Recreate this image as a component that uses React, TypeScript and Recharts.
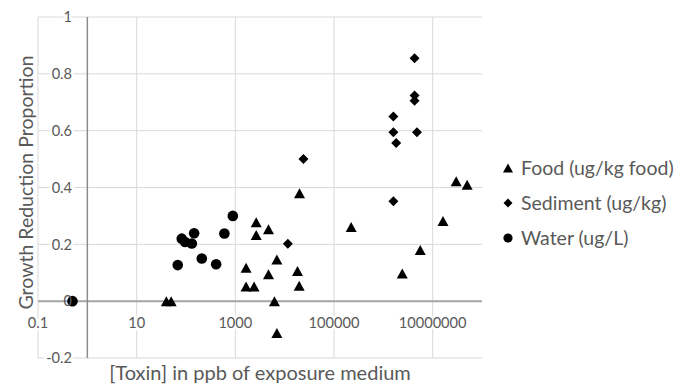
import React from "react";
import {
  ScatterChart,
  Scatter,
  XAxis,
  YAxis,
  CartesianGrid,
  ReferenceLine,
  Legend,
} from "recharts";

// ---- data ----
const foodX = [40, 50, 1650, 1650, 2400, 2650, 2650, 4700, 4700, 6200, 6950, 6950, 18200, 19700, 20000, 223000, 2420000, 5600000, 16200000, 30000000, 50000000];
const foodY = [0, 0, 0.118, 0.052, 0.052, 0.278, 0.233, 0.253, 0.095, 0, 0.147, -0.112, 0.106, 0.054, 0.38, 0.261, 0.097, 0.18, 0.282, 0.422, 0.41];

const sedX = [11600, 24000, 1600000, 1600000, 1600000, 1820000, 4300000, 4300000, 4300000, 4800000];
const sedY = [0.202, 0.5, 0.352, 0.65, 0.594, 0.557, 0.855, 0.724, 0.705, 0.594];

const waterX = [0.5, 68, 82, 96, 131, 146, 209, 408, 600, 889];
const waterY = [0, 0.127, 0.22, 0.208, 0.203, 0.239, 0.15, 0.13, 0.238, 0.3];

const xTicks = [0.1, 10, 1000, 100000, 10000000];
const yTicks = [-0.2, 0, 0.2, 0.4, 0.6, 0.8, 1];

const seriesNames = ["Food (ug/kg food)", "Sediment (ug/kg)", "Water (ug/L)"];

const zip = (xs: number[], ys: number[]) => xs.map((x, i) => ({ x, y: ys[i] }));
const foodData = zip(foodX, foodY);
const sedData = zip(sedX, sedY);
const waterData = zip(waterX, waterY);

const FONT = "Lato, 'Open Sans', sans-serif";
const TXT = "#595959";
const GRID = "#d9d9d9";

const Tri = ({ cx, cy, w = 11, h = 10 }: any) => (
  <path d={`M${cx},${cy - h / 2}L${cx + w / 2},${cy + h / 2}L${cx - w / 2},${cy + h / 2}Z`} fill="#000" />
);
const Dia = ({ cx, cy, r = 5 }: any) => (
  <path d={`M${cx},${cy - r}L${cx + r},${cy}L${cx},${cy + r}L${cx - r},${cy}Z`} fill="#000" />
);
const Dot = ({ cx, cy, r = 5.3 }: any) => <circle cx={cx} cy={cy} r={r} fill="#000" />;

const XTick = (p: any) => (
  <text
    x={p.x}
    y={p.y - 38}
    textAnchor="middle"
    fontFamily={FONT}
    fontSize={14.6}
    fill={TXT}
    stroke="#fff"
    strokeWidth={5}
    paintOrder="stroke"
  >
    {String(p.payload.value)}
  </text>
);

const YTick = (p: any) => (
  <text
    x={p.x + 42}
    y={p.y}
    dy="0.36em"
    textAnchor="end"
    fontFamily={FONT}
    fontSize={14.6}
    fill={TXT}
    stroke="#fff"
    strokeWidth={p.payload.value === 0 ? 0 : 5}
    paintOrder="stroke"
  >
    {String(p.payload.value)}
  </text>
);

const legendMarkers = [
  (c: number) => <Tri cx={c} cy={c} w={10} h={9} />,
  (c: number) => <Dia cx={c} cy={c} r={4.5} />,
  (c: number) => <Dot cx={c} cy={c} r={4.6} />,
];

const renderLegend = () => (
  <div style={{ fontFamily: FONT, fontSize: 19.5, color: TXT }}>
    {seriesNames.map((n, i) => (
      <div key={n} style={{ height: 35, display: "flex", alignItems: "center" }}>
        <svg width={16} height={16} style={{ display: "block" }}>
          {legendMarkers[i](8)}
        </svg>
        <span style={{ marginLeft: 5, whiteSpace: "nowrap" }}>{n}</span>
      </div>
    ))}
  </div>
);

export default function App() {
  return (
    <div style={{ position: "absolute", left: 0, top: 0, background: "#fff" }}>
      <ScatterChart
        width={688}
        height={386}
        margin={{ top: 17, left: 37, right: 206, bottom: 27 }}
      >
        <CartesianGrid stroke={GRID} strokeWidth={1} vertical={false} />
        {xTicks.map((t) => (
          <ReferenceLine key={t} x={t} stroke={GRID} strokeWidth={1} />
        ))}
        <XAxis
          dataKey="x"
          type="number"
          scale="log"
          domain={[0.1, 100000000]}
          allowDataOverflow
          ticks={xTicks}
          interval={0}
          height={1}
          axisLine={false}
          tickLine={false}
          tick={<XTick />}
          label={(props: any) => {
            const vb = props.viewBox;
            return (
              <text
                x={vb.x + vb.width / 2}
                y={vb.y + 22}
                textAnchor="middle"
                fontFamily={FONT}
                fontSize={20}
                fill={TXT}
              >
                [Toxin] in ppb of exposure medium
              </text>
            );
          }}
        />
        <YAxis
          dataKey="y"
          type="number"
          domain={[-0.2, 1]}
          ticks={yTicks}
          interval={0}
          width={1}
          axisLine={false}
          tickLine={false}
          tick={<YTick />}
          label={(props: any) => {
            const vb = props.viewBox;
            const cx = vb.x - 4;
            const cy = vb.y + vb.height / 2 - 5;
            return (
              <text
                x={cx}
                y={cy}
                transform={`rotate(-90 ${cx} ${cy})`}
                textAnchor="middle"
                fontFamily={FONT}
                fontSize={19.5}
                fill={TXT}
              >
                Growth Reduction Proportion
              </text>
            );
          }}
        />
        <ReferenceLine y={0} stroke="#a6a6a6" strokeWidth={2} />
        <ReferenceLine x={1} stroke="#8c8c8c" strokeWidth={1.5} />
        <Legend
          layout="vertical"
          align="center"
          verticalAlign="middle"
          content={renderLegend}
          wrapperStyle={{ left: 500, top: 150, width: 188 }}
        />
        <Scatter name={seriesNames[0]} data={foodData} shape={(p: any) => <Tri cx={p.cx} cy={p.cy} />} isAnimationActive={false} {...({ zIndex: 1500 } as any)} />
        <Scatter name={seriesNames[1]} data={sedData} shape={(p: any) => <Dia cx={p.cx} cy={p.cy} />} isAnimationActive={false} {...({ zIndex: 1500 } as any)} />
        <Scatter name={seriesNames[2]} data={waterData} shape={(p: any) => <Dot cx={p.cx} cy={p.cy} />} isAnimationActive={false} {...({ zIndex: 1500 } as any)} />
      </ScatterChart>
    </div>
  );
}
